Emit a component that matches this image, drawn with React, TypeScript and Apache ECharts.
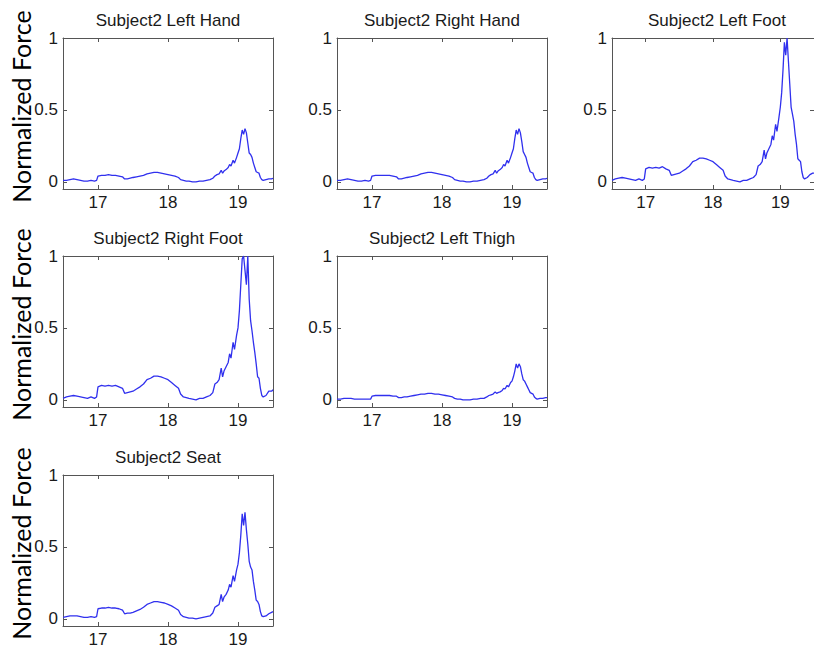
import React, { useEffect, useRef } from "react";
import * as echarts from "echarts";

// Shared time stamps (s)
const time: number[] = [
  16.5, 16.55, 16.6, 16.65, 16.7, 16.75, 16.8, 16.85, 16.9, 16.95, 16.98,
  17.0, 17.05, 17.1, 17.15, 17.2, 17.25, 17.3, 17.35,
  17.38, 17.42, 17.46, 17.5,
  17.55, 17.6, 17.65, 17.7, 17.75, 17.8, 17.85, 17.9, 17.95, 18.0, 18.05, 18.1, 18.15,
  18.18, 18.22, 18.26, 18.3, 18.35, 18.4, 18.45, 18.5, 18.55, 18.6,
  18.64, 18.67, 18.7, 18.73, 18.76, 18.78, 18.8, 18.83, 18.86, 18.88, 18.9, 18.93, 18.95, 18.98,
  19.0, 19.02, 19.04, 19.06, 19.08, 19.1, 19.12, 19.14, 19.16, 19.18, 19.2, 19.22, 19.24, 19.26, 19.28, 19.3, 19.32, 19.34, 19.36,
  19.4, 19.44, 19.48, 19.5,
];

const leftHand: number[] = [
  0.01, 0.01, 0.015, 0.02, 0.015, 0.01, 0.005, 0.005, 0.01, 0.005, 0.01,
  0.04, 0.045, 0.045, 0.05, 0.045, 0.045, 0.04, 0.035,
  0.02, 0.02, 0.025, 0.03,
  0.035, 0.04, 0.045, 0.055, 0.06, 0.065, 0.065, 0.06, 0.055, 0.05, 0.045, 0.04, 0.03,
  0.015, 0.01, 0.005, 0.005, 0.0, 0.0, 0.005, 0.005, 0.01, 0.015,
  0.025, 0.04, 0.05, 0.055, 0.08, 0.06, 0.075, 0.085, 0.1, 0.12, 0.11, 0.15, 0.13, 0.17,
  0.2, 0.23, 0.3, 0.36, 0.33, 0.37, 0.34, 0.27, 0.2, 0.19, 0.17, 0.13, 0.1, 0.07, 0.065, 0.06, 0.03, 0.015, 0.01,
  0.015, 0.02, 0.02, 0.025,
];

const rightHand: number[] = [
  0.01, 0.01, 0.015, 0.02, 0.015, 0.01, 0.005, 0.005, 0.01, 0.005, 0.01,
  0.04, 0.045, 0.045, 0.045, 0.045, 0.045, 0.04, 0.035,
  0.02, 0.02, 0.025, 0.03,
  0.035, 0.04, 0.045, 0.055, 0.06, 0.065, 0.065, 0.06, 0.055, 0.05, 0.045, 0.04, 0.03,
  0.015, 0.01, 0.005, 0.005, 0.0, 0.0, 0.005, 0.005, 0.01, 0.015,
  0.025, 0.04, 0.05, 0.055, 0.08, 0.06, 0.075, 0.085, 0.1, 0.12, 0.11, 0.15, 0.13, 0.17,
  0.2, 0.23, 0.3, 0.36, 0.33, 0.37, 0.34, 0.28, 0.21, 0.19, 0.17, 0.13, 0.1, 0.07, 0.065, 0.06, 0.03, 0.015, 0.01,
  0.015, 0.02, 0.02, 0.025,
];

const leftFoot: number[] = [
  0.01, 0.02, 0.025, 0.03, 0.025, 0.02, 0.015, 0.01, 0.02, 0.01, 0.02,
  0.09, 0.1, 0.095, 0.1, 0.095, 0.105, 0.09, 0.08,
  0.045, 0.05, 0.055, 0.06,
  0.075, 0.09, 0.11, 0.14, 0.15, 0.165, 0.165, 0.16, 0.15, 0.14, 0.12, 0.1, 0.08,
  0.04, 0.02, 0.015, 0.01, 0.005, 0.0, 0.01, 0.01, 0.02, 0.03,
  0.05, 0.11, 0.12, 0.14, 0.22, 0.16, 0.2, 0.23, 0.26, 0.32, 0.29, 0.4, 0.35, 0.45,
  0.52, 0.62, 0.78, 0.97, 0.88, 1.0, 0.84, 0.68, 0.52, 0.47, 0.42, 0.33, 0.26, 0.16, 0.15, 0.14, 0.07, 0.03, 0.02,
  0.03, 0.05, 0.06, 0.06,
];

const rightFoot: number[] = [
  0.01, 0.02, 0.025, 0.03, 0.025, 0.02, 0.015, 0.01, 0.02, 0.01, 0.02,
  0.09, 0.1, 0.095, 0.1, 0.095, 0.1, 0.09, 0.08,
  0.045, 0.05, 0.055, 0.06,
  0.075, 0.09, 0.11, 0.14, 0.15, 0.165, 0.165, 0.16, 0.15, 0.14, 0.12, 0.1, 0.08,
  0.04, 0.02, 0.015, 0.01, 0.005, 0.0, 0.01, 0.01, 0.02, 0.03,
  0.05, 0.11, 0.12, 0.14, 0.22, 0.16, 0.2, 0.23, 0.26, 0.32, 0.29, 0.4, 0.35, 0.45,
  0.5, 0.62, 0.8, 0.98, 1.0, 0.9, 0.8, 1.0, 0.7, 0.55, 0.48, 0.4, 0.33, 0.25, 0.16, 0.15, 0.08, 0.03, 0.02,
  0.03, 0.06, 0.06, 0.07,
];

const leftThigh: number[] = [
  0.005, 0.005, 0.01, 0.01, 0.01, 0.005, 0.005, 0.005, 0.005, 0.005, 0.005,
  0.025, 0.03, 0.03, 0.03, 0.03, 0.03, 0.025, 0.025,
  0.015, 0.015, 0.02, 0.02,
  0.025, 0.03, 0.035, 0.04, 0.04, 0.045, 0.045, 0.04, 0.04, 0.035, 0.03, 0.025, 0.02,
  0.01, 0.005, 0.005, 0.0, 0.0, 0.0, 0.005, 0.005, 0.01, 0.01,
  0.02, 0.03, 0.035, 0.04, 0.055, 0.045, 0.05, 0.055, 0.065, 0.08, 0.075, 0.1, 0.09, 0.12,
  0.13, 0.16, 0.2, 0.25, 0.22, 0.25, 0.23, 0.18, 0.14, 0.13, 0.11, 0.09, 0.07, 0.05, 0.045, 0.04, 0.02, 0.01, 0.005,
  0.01, 0.01, 0.015, 0.015,
];

const seat: number[] = [
  0.01, 0.015, 0.02, 0.02, 0.02, 0.015, 0.01, 0.01, 0.015, 0.01, 0.015,
  0.07, 0.075, 0.075, 0.08, 0.075, 0.075, 0.07, 0.06,
  0.035, 0.04, 0.04, 0.045,
  0.055, 0.065, 0.08, 0.1, 0.11, 0.12, 0.12, 0.115, 0.11, 0.1, 0.09, 0.075, 0.06,
  0.03, 0.015, 0.01, 0.005, 0.005, 0.0, 0.005, 0.01, 0.015, 0.02,
  0.04, 0.08, 0.09, 0.1, 0.17, 0.12, 0.15, 0.17, 0.2, 0.24, 0.22, 0.3, 0.26, 0.34,
  0.38, 0.46, 0.58, 0.73, 0.65, 0.74, 0.62, 0.52, 0.4, 0.36, 0.34, 0.26, 0.2, 0.13, 0.12, 0.1, 0.05, 0.02, 0.015,
  0.02, 0.035, 0.045, 0.05,
];

const titles: string[] = [
  "Subject2 Left Hand",
  "Subject2 Right Hand",
  "Subject2 Left Foot",
  "Subject2 Right Foot",
  "Subject2 Left Thigh",
  "Subject2 Seat",
];
const seriesValues: number[][] = [leftHand, rightHand, leftFoot, rightFoot, leftThigh, seat];
const xTicks: number[] = [17, 18, 19];
const yTicks: number[] = [0, 0.5, 1];
const yLabel = "Normalized Force";

const X_MIN = 16.5;
const X_MAX = 19.5;
const Y_MIN = -0.05;
const Y_MAX = 1;

export default function App() {
  const ref = useRef<HTMLDivElement>(null);

  useEffect(() => {
    if (!ref.current) return;
    const chart = echarts.init(ref.current, null, { renderer: "svg" });

    const colLeft = [63, 337, 612];
    const rowTop = [38, 256, 475];
    const W = 210;
    const H = 151;
    const positions = [
      [0, 0], [0, 1], [0, 2],
      [1, 0], [1, 1],
      [2, 0],
    ];

    const frameColor = "#555555";
    const labelFont = "Liberation Sans, Arial, sans-serif";

    const grids: any[] = [];
    const xAxes: any[] = [];
    const yAxes: any[] = [];
    const series: any[] = [];
    const titleOpts: any[] = [];
    const graphics: any[] = [];

    positions.forEach(([r, c], i) => {
      const left = colLeft[c];
      const top = rowTop[r];
      grids.push({ left, top, width: W, height: H, containLabel: false, show: false });

      const axisLineStyle = { show: true, onZero: false, lineStyle: { color: frameColor, width: 1 } };
      const tickBase = { show: true, inside: true, length: 4, lineStyle: { color: frameColor, width: 1 } };

      xAxes.push({
        type: "value", gridIndex: i, position: "bottom", min: X_MIN, max: X_MAX,
        axisLine: axisLineStyle,
        axisTick: { ...tickBase, customValues: xTicks },
        axisLabel: { show: true, customValues: xTicks, color: "#1a1a1a", fontSize: 17, fontFamily: labelFont, margin: 5 },
        splitLine: { show: false },
      });
      xAxes.push({
        type: "value", gridIndex: i, position: "top", min: X_MIN, max: X_MAX,
        axisLine: axisLineStyle,
        axisTick: { ...tickBase, customValues: xTicks },
        axisLabel: { show: false },
        splitLine: { show: false },
      });
      yAxes.push({
        type: "value", gridIndex: i, position: "left", min: Y_MIN, max: Y_MAX,
        axisLine: axisLineStyle,
        axisTick: { ...tickBase, customValues: yTicks },
        axisLabel: { show: true, customValues: yTicks, color: "#1a1a1a", fontSize: 17, fontFamily: labelFont, margin: 5 },
        splitLine: { show: false },
      });
      yAxes.push({
        type: "value", gridIndex: i, position: "right", min: Y_MIN, max: Y_MAX,
        axisLine: axisLineStyle,
        axisTick: { ...tickBase, customValues: yTicks },
        axisLabel: { show: false },
        splitLine: { show: false },
      });

      series.push({
        type: "line",
        xAxisIndex: i * 2,
        yAxisIndex: i * 2,
        showSymbol: false,
        symbol: "none",
        clip: true,
        lineStyle: { color: "#3030ee", width: 1.3 },
        data: time.map((t, k) => [t, seriesValues[i][k]]),
      });

      titleOpts.push({
        text: titles[i],
        left: left + W / 2,
        top: top - 26,
        textAlign: "center",
        padding: 0,
        textStyle: { fontSize: 17, fontWeight: "normal", color: "#1a1a1a", fontFamily: labelFont },
      });

      if (c === 0) {
        graphics.push({
          type: "text",
          x: 21,
          y: top + H / 2 - 7,
          rotation: Math.PI / 2,
          style: {
            text: yLabel,
            fontSize: 25,
            fontFamily: "Lato, Noto Sans, sans-serif",
            fill: "#000000",
            textAlign: "center",
            textVerticalAlign: "middle",
          },
        });
      }
    });

    chart.setOption({
      animation: false,
      backgroundColor: "#ffffff",
      title: titleOpts,
      grid: grids,
      xAxis: xAxes,
      yAxis: yAxes,
      series,
      graphic: graphics,
    });

    return () => chart.dispose();
  }, []);

  return (
    <div
      ref={ref}
      style={{ position: "fixed", left: 0, top: 0, width: 814, height: 650 }}
    />
  );
}
